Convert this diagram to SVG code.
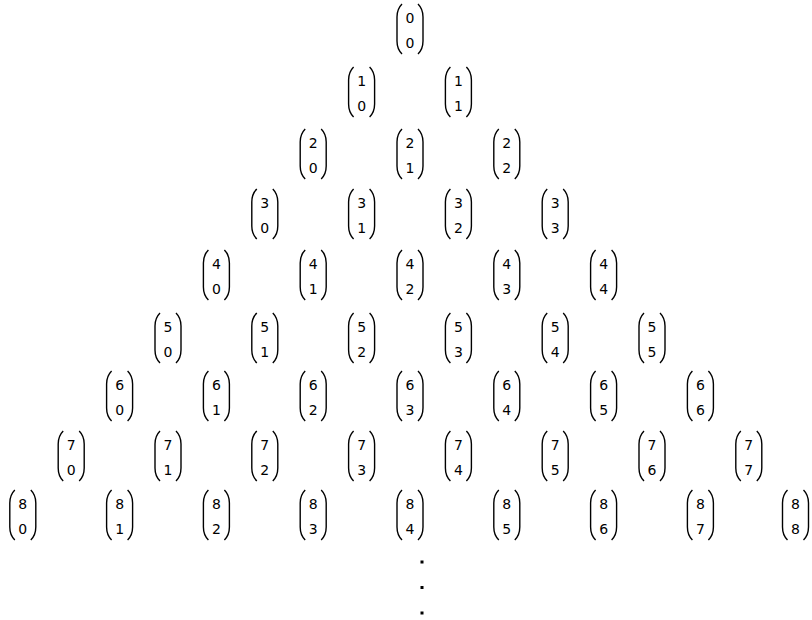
<svg xmlns="http://www.w3.org/2000/svg" xmlns:xlink="http://www.w3.org/1999/xlink" width="812" height="620" viewBox="0 0 812 620">
<style>
text{font-family:"DejaVu Sans","Liberation Sans",sans-serif;font-size:14px;fill:#000;text-anchor:middle}
.par{fill:none;stroke:#000;stroke-width:1.4}
</style>
<defs>
<g id="p">
<path class="par" d="M-8,-25 Q-13,-20 -13,-12 L-13,12 Q-13,20 -8,25"/>
<path class="par" d="M8,-25 Q13,-20 13,-12 L13,12 Q13,20 8,25"/>
</g>
</defs>
<rect width="812" height="620" fill="#fff"/>
<g id="n0_0" transform="translate(410,29)"><use xlink:href="#p"/><text y="-6">0</text><text y="19">0</text></g>
<g id="n1_0" transform="translate(361.6,92)"><use xlink:href="#p"/><text y="-6">1</text><text y="19">0</text></g>
<g id="n1_1" transform="translate(458.4,92)"><use xlink:href="#p"/><text y="-6">1</text><text y="19">1</text></g>
<g id="n2_0" transform="translate(313.2,154)"><use xlink:href="#p"/><text y="-6">2</text><text y="19">0</text></g>
<g id="n2_1" transform="translate(410,154)"><use xlink:href="#p"/><text y="-6">2</text><text y="19">1</text></g>
<g id="n2_2" transform="translate(506.8,154)"><use xlink:href="#p"/><text y="-6">2</text><text y="19">2</text></g>
<g id="n3_0" transform="translate(264.8,214)"><use xlink:href="#p"/><text y="-6">3</text><text y="19">0</text></g>
<g id="n3_1" transform="translate(361.6,214)"><use xlink:href="#p"/><text y="-6">3</text><text y="19">1</text></g>
<g id="n3_2" transform="translate(458.4,214)"><use xlink:href="#p"/><text y="-6">3</text><text y="19">2</text></g>
<g id="n3_3" transform="translate(555.2,214)"><use xlink:href="#p"/><text y="-6">3</text><text y="19">3</text></g>
<g id="n4_0" transform="translate(216.4,275)"><use xlink:href="#p"/><text y="-6">4</text><text y="19">0</text></g>
<g id="n4_1" transform="translate(313.2,275)"><use xlink:href="#p"/><text y="-6">4</text><text y="19">1</text></g>
<g id="n4_2" transform="translate(410,275)"><use xlink:href="#p"/><text y="-6">4</text><text y="19">2</text></g>
<g id="n4_3" transform="translate(506.8,275)"><use xlink:href="#p"/><text y="-6">4</text><text y="19">3</text></g>
<g id="n4_4" transform="translate(603.6,275)"><use xlink:href="#p"/><text y="-6">4</text><text y="19">4</text></g>
<g id="n5_0" transform="translate(168,338)"><use xlink:href="#p"/><text y="-6">5</text><text y="19">0</text></g>
<g id="n5_1" transform="translate(264.8,338)"><use xlink:href="#p"/><text y="-6">5</text><text y="19">1</text></g>
<g id="n5_2" transform="translate(361.6,338)"><use xlink:href="#p"/><text y="-6">5</text><text y="19">2</text></g>
<g id="n5_3" transform="translate(458.4,338)"><use xlink:href="#p"/><text y="-6">5</text><text y="19">3</text></g>
<g id="n5_4" transform="translate(555.2,338)"><use xlink:href="#p"/><text y="-6">5</text><text y="19">4</text></g>
<g id="n5_5" transform="translate(652,338)"><use xlink:href="#p"/><text y="-6">5</text><text y="19">5</text></g>
<g id="n6_0" transform="translate(119.6,396)"><use xlink:href="#p"/><text y="-6">6</text><text y="19">0</text></g>
<g id="n6_1" transform="translate(216.4,396)"><use xlink:href="#p"/><text y="-6">6</text><text y="19">1</text></g>
<g id="n6_2" transform="translate(313.2,396)"><use xlink:href="#p"/><text y="-6">6</text><text y="19">2</text></g>
<g id="n6_3" transform="translate(410,396)"><use xlink:href="#p"/><text y="-6">6</text><text y="19">3</text></g>
<g id="n6_4" transform="translate(506.8,396)"><use xlink:href="#p"/><text y="-6">6</text><text y="19">4</text></g>
<g id="n6_5" transform="translate(603.6,396)"><use xlink:href="#p"/><text y="-6">6</text><text y="19">5</text></g>
<g id="n6_6" transform="translate(700.4,396)"><use xlink:href="#p"/><text y="-6">6</text><text y="19">6</text></g>
<g id="n7_0" transform="translate(71.2,456)"><use xlink:href="#p"/><text y="-6">7</text><text y="19">0</text></g>
<g id="n7_1" transform="translate(168,456)"><use xlink:href="#p"/><text y="-6">7</text><text y="19">1</text></g>
<g id="n7_2" transform="translate(264.8,456)"><use xlink:href="#p"/><text y="-6">7</text><text y="19">2</text></g>
<g id="n7_3" transform="translate(361.6,456)"><use xlink:href="#p"/><text y="-6">7</text><text y="19">3</text></g>
<g id="n7_4" transform="translate(458.4,456)"><use xlink:href="#p"/><text y="-6">7</text><text y="19">4</text></g>
<g id="n7_5" transform="translate(555.2,456)"><use xlink:href="#p"/><text y="-6">7</text><text y="19">5</text></g>
<g id="n7_6" transform="translate(652,456)"><use xlink:href="#p"/><text y="-6">7</text><text y="19">6</text></g>
<g id="n7_7" transform="translate(748.8,456)"><use xlink:href="#p"/><text y="-6">7</text><text y="19">7</text></g>
<g id="n8_0" transform="translate(22.8,515)"><use xlink:href="#p"/><text y="-6">8</text><text y="19">0</text></g>
<g id="n8_1" transform="translate(119.6,515)"><use xlink:href="#p"/><text y="-6">8</text><text y="19">1</text></g>
<g id="n8_2" transform="translate(216.4,515)"><use xlink:href="#p"/><text y="-6">8</text><text y="19">2</text></g>
<g id="n8_3" transform="translate(313.2,515)"><use xlink:href="#p"/><text y="-6">8</text><text y="19">3</text></g>
<g id="n8_4" transform="translate(410,515)"><use xlink:href="#p"/><text y="-6">8</text><text y="19">4</text></g>
<g id="n8_5" transform="translate(506.8,515)"><use xlink:href="#p"/><text y="-6">8</text><text y="19">5</text></g>
<g id="n8_6" transform="translate(603.6,515)"><use xlink:href="#p"/><text y="-6">8</text><text y="19">6</text></g>
<g id="n8_7" transform="translate(700.4,515)"><use xlink:href="#p"/><text y="-6">8</text><text y="19">7</text></g>
<g id="n8_8" transform="translate(795.5,515)"><use xlink:href="#p"/><text y="-6">8</text><text y="19">8</text></g>
<g id="dots" fill="#000">
<rect x="420.5" y="560.5" width="3" height="3"/>
<rect x="420.5" y="586" width="3" height="3"/>
<rect x="420.5" y="611.5" width="3" height="3"/>
</g>
</svg>
